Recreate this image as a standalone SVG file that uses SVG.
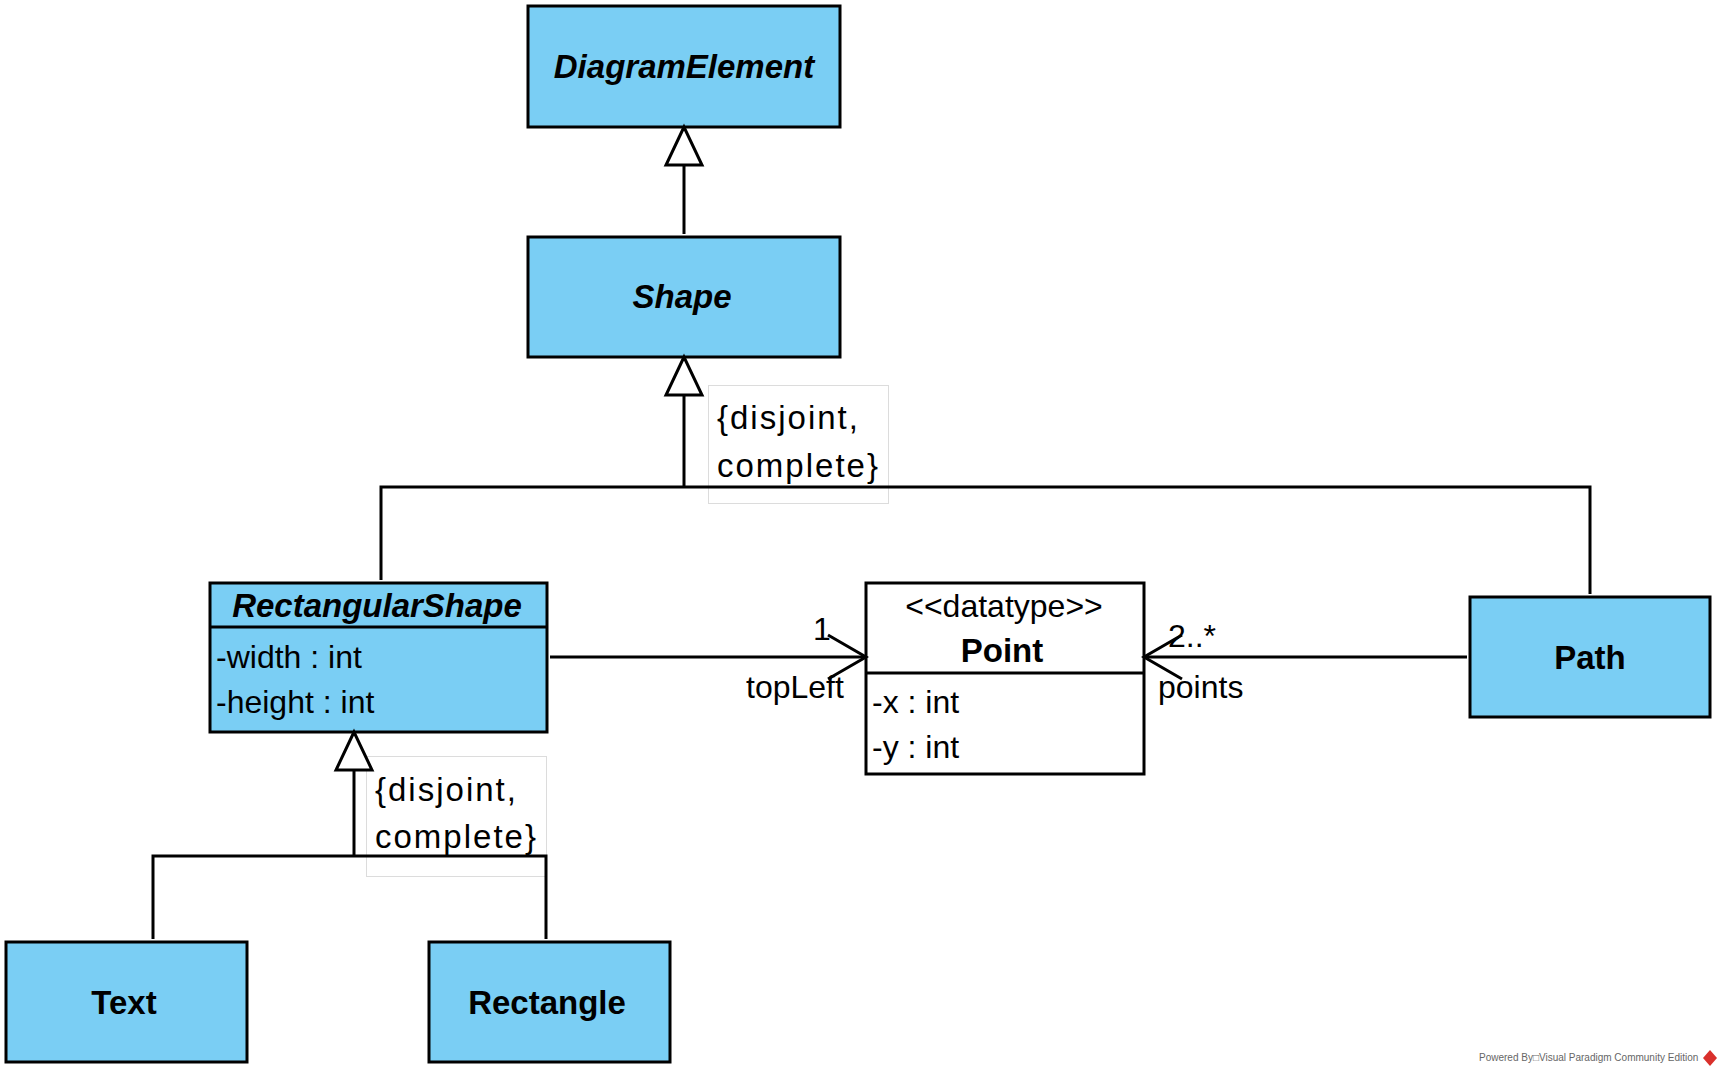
<svg xmlns="http://www.w3.org/2000/svg" width="1722" height="1074" viewBox="0 0 1722 1074">
<defs>
<style>
.cls{fill:#7ACEF4;stroke:#000;stroke-width:3}
.dt{fill:#fff;stroke:#000;stroke-width:3}
.name{font-family:"Liberation Sans",Arial,sans-serif;font-size:33px;font-weight:bold;text-anchor:middle;fill:#000}
.abs{font-style:italic}
.txt{font-family:"Liberation Sans",Arial,sans-serif;font-size:32px;fill:#000}
.mid{text-anchor:middle}
.note{fill:none;stroke:#dcdcdc;stroke-width:1}
.ntext{font-family:"Liberation Sans",Arial,sans-serif;font-size:33px;letter-spacing:2px;fill:#000}
.ln{fill:none;stroke:#000;stroke-width:3}
.foot{font-family:"Liberation Sans",Arial,sans-serif;font-size:10px;fill:#666}
</style>
<marker id="gen" markerUnits="userSpaceOnUse" viewBox="-42 -22 46 44" markerWidth="46" markerHeight="44" refX="0" refY="0" orient="auto">
<polygon points="0,0 -38,-18 -38,18" fill="#fff" stroke="#000" stroke-width="3"/>
</marker>
<marker id="open" markerUnits="userSpaceOnUse" viewBox="-42 -26 46 52" markerWidth="46" markerHeight="52" refX="0" refY="0" orient="auto">
<polyline points="-38,-22 0,0 -38,22" fill="none" stroke="#000" stroke-width="3"/>
</marker>
</defs>
<rect width="1722" height="1074" fill="#fff"/>

<g id="DiagramElement">
<rect class="cls" x="528" y="6" width="312" height="121"/>
<text class="name abs" x="684" y="78">DiagramElement</text>
</g>

<g id="Shape">
<rect class="cls" x="528" y="237" width="312" height="120"/>
<text class="name abs" x="682" y="308">Shape</text>
</g>

<g id="RectangularShape">
<rect class="cls" x="210" y="583" width="337" height="149"/>
<line x1="210" y1="627" x2="547" y2="627" stroke="#000" stroke-width="3"/>
<text class="name abs" x="377" y="617">RectangularShape</text>
<text class="txt" x="216" y="668">-width : int</text>
<text class="txt" x="216" y="713">-height : int</text>
</g>

<g id="Point">
<rect class="dt" x="866" y="583" width="278" height="191"/>
<line x1="866" y1="673" x2="1144" y2="673" stroke="#000" stroke-width="3"/>
<text class="txt mid" x="1004" y="617">&lt;&lt;datatype&gt;&gt;</text>
<text class="name" x="1002" y="662">Point</text>
<text class="txt" x="872" y="713">-x : int</text>
<text class="txt" x="872" y="758">-y : int</text>
</g>

<g id="Path">
<rect class="cls" x="1470" y="597" width="240" height="120"/>
<text class="name" x="1590" y="669">Path</text>
</g>

<g id="Text">
<rect class="cls" x="6" y="942" width="241" height="120"/>
<text class="name" x="124" y="1014">Text</text>
</g>

<g id="Rectangle">
<rect class="cls" x="429" y="942" width="241" height="120"/>
<text class="name" x="547" y="1014">Rectangle</text>
</g>

<g id="constraint1">
<rect class="note" x="708.5" y="385.5" width="180" height="118"/>
<text class="ntext" x="717" y="429">{disjoint,</text>
<text class="ntext" x="717" y="477">complete}</text>
</g>

<g id="constraint2">
<rect class="note" x="366.5" y="756.5" width="180" height="120"/>
<text class="ntext" x="375" y="801">{disjoint,</text>
<text class="ntext" x="375" y="848">complete}</text>
</g>

<g id="connectors">
<path class="ln" d="M684,234 L684,127" marker-end="url(#gen)"/>
<path class="ln" d="M684,487 L684,357" marker-end="url(#gen)"/>
<path class="ln" d="M381,580 L381,487 L1590,487 L1590,594"/>
<path class="ln" d="M354,856 L354,732" marker-end="url(#gen)"/>
<path class="ln" d="M153,939 L153,856 L546,856 L546,939"/>
<path class="ln" d="M550,657 L866,657" marker-end="url(#open)"/>
<path class="ln" d="M1467,657 L1144,657" marker-end="url(#open)"/>
<text class="txt" x="813" y="640">1</text>
<text class="txt" x="746" y="698">topLeft</text>
<text class="txt" x="1168" y="647">2..*</text>
<text class="txt" x="1158" y="698">points</text>
</g>

<g id="footer">
<text class="foot" x="1479" y="1061">Powered By□Visual Paradigm Community Edition</text>
<polygon points="1710,1050 1717,1058 1710,1066 1703,1058" fill="#d9302c"/>
</g>
</svg>
